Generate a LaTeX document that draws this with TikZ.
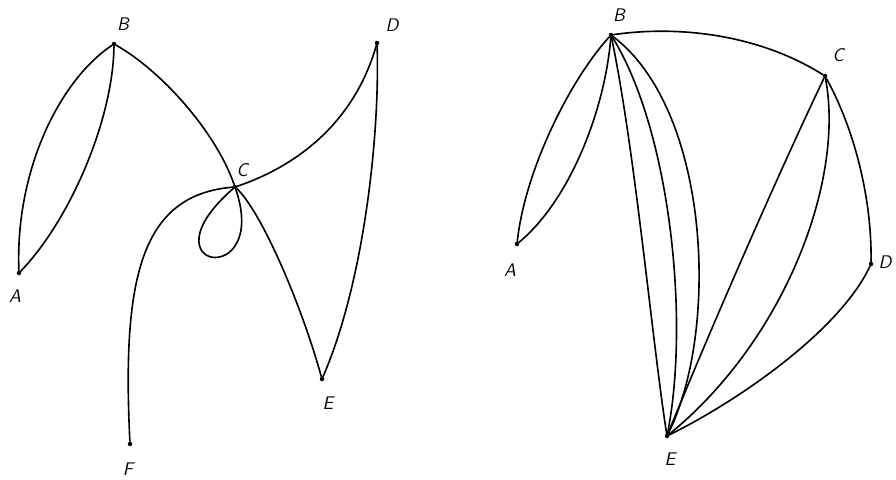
\documentclass[tikz,border=0pt]{standalone}
\usepackage{tikz}

\begin{document}
\begin{tikzpicture}[
    x=0.025cm, y=-0.025cm,
    vertex/.style={circle, fill=black, inner sep=0pt, minimum size=3.2pt},
    vname/.style={font=\fontsize{13}{13}\selectfont\sffamily\slshape, inner sep=1pt},
    edge/.style={line width=1.15pt, line cap=round}
]
    \useasboundingbox (0,0) rectangle (896,480);

    \node[vertex] (lB) at (114, 44) {};
    \node[vertex] (lD) at (377, 43) {};
    \node[vertex] (lC) at (235,187) {};
    \node[vertex] (lA) at (19, 273) {};
    \node[vertex] (lE) at (322,379) {};
    \node[vertex] (lF) at (130,444) {};

    \node[vname] (lBt) at (123, 24) {B};
    \node[vname] (lDt) at (392, 25) {D};
    \node[vname] (lCt) at (242,170) {C};
    \node[vname] (lAt) at (15, 296) {A};
    \node[vname] (lEt) at (328,403) {E};
    \node[vname] (lFt) at (128,469) {F};

    \draw[edge] (lB) .. controls (60,80) and (15,170) .. (lA);
    \draw[edge] (lB) .. controls (113,120) and (70,220) .. (lA);
    \draw[edge] (lB) .. controls (160,70) and (215,130) .. (lC);
    \draw[edge] (lC) .. controls (300,165) and (355,120) .. (lD);
    \draw[edge] (lD) .. controls (380,130) and (365,280) .. (lE);
    \draw[edge] (lC) .. controls (260,210) and (300,300) .. (lE);
    \draw[edge] (lC) .. controls (140,195) and (122,280) .. (lF);
    \draw[edge] (lC) .. controls (140,270) and (270,290) .. (lC);

    \node[vertex] (rB) at (611, 35) {};
    \node[vertex] (rC) at (825, 76) {};
    \node[vertex] (rA) at (517,244) {};
    \node[vertex] (rD) at (871,264) {};
    \node[vertex] (rE) at (667,436) {};

    \node[vname] (rBt) at (619, 15) {B};
    \node[vname] (rCt) at (838, 55) {C};
    \node[vname] (rAt) at (510,270) {A};
    \node[vname] (rDt) at (885,262) {D};
    \node[vname] (rEt) at (670,459) {E};

    \draw[edge] (rB) .. controls (680,25) and (760,35) .. (rC);
    \draw[edge] (rB) .. controls (570,80) and (525,170) .. (rA);
    \draw[edge] (rB) .. controls (605,110) and (570,200) .. (rA);
    \draw[edge] (rB) .. controls (635,150) and (652,340) .. (rE);
    \draw[edge] (rB) .. controls (670,130) and (690,320) .. (rE);
    \draw[edge] (rB) .. controls (710,110) and (720,330) .. (rE);
    \draw[edge] (rC) .. controls (780,170) and (710,330) .. (rE);
    \draw[edge] (rC) .. controls (845,180) and (785,340) .. (rE);
    \draw[edge] (rC) .. controls (855,130) and (872,200) .. (rD);
    \draw[edge] (rD) .. controls (840,330) and (740,400) .. (rE);
\end{tikzpicture}
\end{document}
